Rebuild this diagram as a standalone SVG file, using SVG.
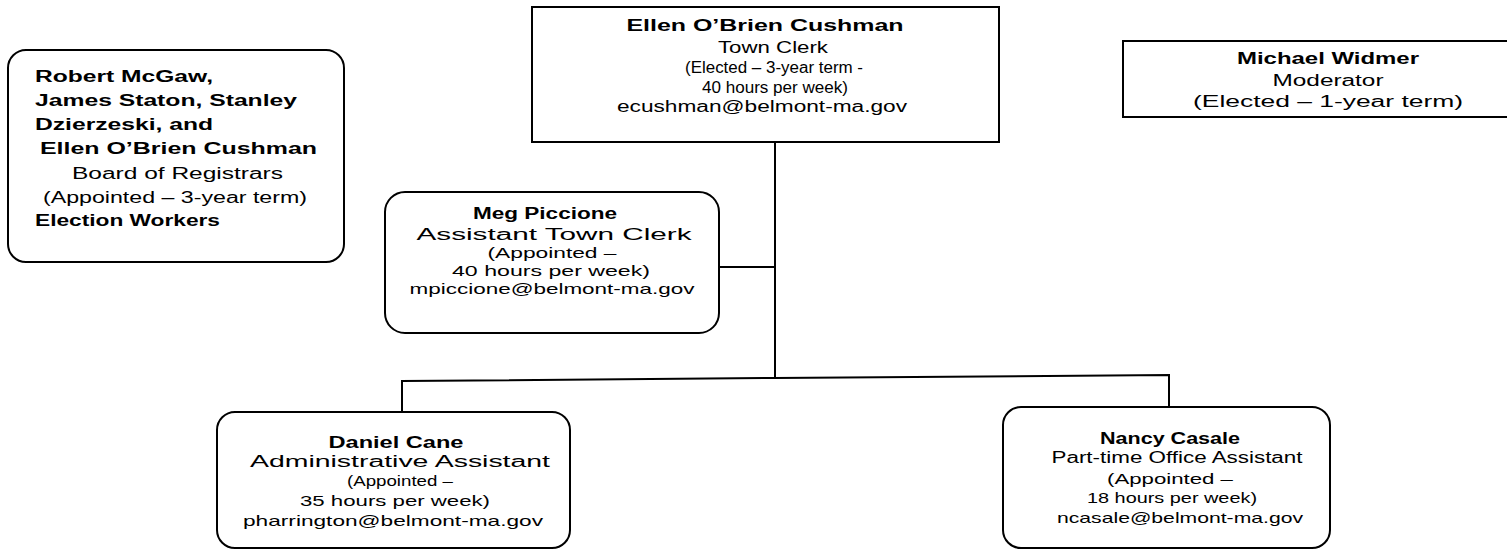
<svg xmlns="http://www.w3.org/2000/svg" width="1507" height="550" viewBox="0 0 1507 550">
<style>
.box{fill:#fff;stroke:#000;stroke-width:2}
.ln{fill:none;stroke:#000;stroke-width:2}
text{font-family:"Liberation Sans",Arial,sans-serif;fill:#000;font-size:16px}
.b{font-weight:bold}
.c{text-anchor:middle}
.s{font-size:15px}
</style>
<rect width="1507" height="550" fill="#fff"/>
<g id="connectors">
<line class="ln" x1="775" y1="142" x2="775" y2="378"/>
<line class="ln" x1="719" y1="267" x2="775" y2="267"/>
<polyline class="ln" points="402,412 402,381 775,378 1169,375 1169,407"/>
</g>
<g id="registrars">
<rect class="box" x="8" y="50" width="336" height="212" rx="18"/>
<text class="b" x="35" y="82" font-size="17" textLength="178" lengthAdjust="spacingAndGlyphs">Robert McGaw,</text>
<text class="b" x="35" y="106" font-size="17" textLength="262" lengthAdjust="spacingAndGlyphs">James Staton, Stanley</text>
<text class="b" x="35" y="130" font-size="17" textLength="178" lengthAdjust="spacingAndGlyphs">Dzierzeski, and</text>
<text class="b" x="40" y="154" font-size="17" textLength="277" lengthAdjust="spacingAndGlyphs">Ellen O’Brien Cushman</text>
<text x="72" y="179" font-size="17" textLength="211" lengthAdjust="spacingAndGlyphs">Board of Registrars</text>
<text x="43" y="203" font-size="17" textLength="264" lengthAdjust="spacingAndGlyphs">(Appointed – 3-year term)</text>
<text class="b" x="35" y="226" font-size="17" textLength="185" lengthAdjust="spacingAndGlyphs">Election Workers</text>
</g>
<g id="town-clerk">
<rect class="box" x="532" y="7" width="467" height="135"/>
<text class="b c" x="765" y="31" font-size="17" textLength="277" lengthAdjust="spacingAndGlyphs">Ellen O’Brien Cushman</text>
<text class="c" x="773" y="53" textLength="110" lengthAdjust="spacingAndGlyphs">Town Clerk</text>
<text class="c" x="774" y="73" textLength="178" lengthAdjust="spacingAndGlyphs">(Elected – 3-year term -</text>
<text class="c" x="775" y="93" textLength="146" lengthAdjust="spacingAndGlyphs">40 hours per week)</text>
<text class="c" x="762" y="112" textLength="290" lengthAdjust="spacingAndGlyphs">ecushman@belmont-ma.gov</text>
</g>
<g id="moderator">
<rect class="box" x="1123" y="41" width="395" height="76"/>
<text class="b c" x="1328" y="64" font-size="17" textLength="182" lengthAdjust="spacingAndGlyphs">Michael Widmer</text>
<text class="c" x="1328" y="86" textLength="111" lengthAdjust="spacingAndGlyphs">Moderator</text>
<text class="c" x="1328" y="107" textLength="270" lengthAdjust="spacingAndGlyphs">(Elected – 1-year term)</text>
</g>
<g id="assistant-clerk">
<rect class="box" x="385" y="192" width="334" height="141" rx="20"/>
<text class="b c" x="545" y="219" font-size="17" textLength="144" lengthAdjust="spacingAndGlyphs">Meg Piccione</text>
<text class="c" x="554" y="240" font-size="17" textLength="275" lengthAdjust="spacingAndGlyphs">Assistant Town Clerk</text>
<text class="c s" x="552" y="258" textLength="129" lengthAdjust="spacingAndGlyphs">(Appointed –</text>
<text class="c s" x="551" y="276" textLength="198" lengthAdjust="spacingAndGlyphs">40 hours per week)</text>
<text class="c s" x="552" y="294" textLength="285" lengthAdjust="spacingAndGlyphs">mpiccione@belmont-ma.gov</text>
</g>
<g id="admin-assistant">
<rect class="box" x="217" y="412" width="353" height="136" rx="18"/>
<text class="b c" x="396" y="448" font-size="17" textLength="135" lengthAdjust="spacingAndGlyphs">Daniel Cane</text>
<text class="c" x="400" y="467" font-size="17" textLength="300" lengthAdjust="spacingAndGlyphs">Administrative Assistant</text>
<text class="c s" x="400" y="486" textLength="106" lengthAdjust="spacingAndGlyphs">(Appointed –</text>
<text class="c s" x="395" y="506" textLength="190" lengthAdjust="spacingAndGlyphs">35 hours per week)</text>
<text class="c s" x="393" y="526" textLength="300" lengthAdjust="spacingAndGlyphs">pharrington@belmont-ma.gov</text>
</g>
<g id="office-assistant">
<rect class="box" x="1003" y="407" width="327" height="141" rx="18"/>
<text class="b c" x="1170" y="444" font-size="17" textLength="140" lengthAdjust="spacingAndGlyphs">Nancy Casale</text>
<text class="c" x="1177" y="463" font-size="17" textLength="251" lengthAdjust="spacingAndGlyphs">Part-time Office Assistant</text>
<text class="c s" x="1170" y="484" textLength="126" lengthAdjust="spacingAndGlyphs">(Appointed –</text>
<text class="c s" x="1172" y="503" textLength="170" lengthAdjust="spacingAndGlyphs">18 hours per week)</text>
<text class="c s" x="1180" y="523" textLength="246" lengthAdjust="spacingAndGlyphs">ncasale@belmont-ma.gov</text>
</g>
</svg>
